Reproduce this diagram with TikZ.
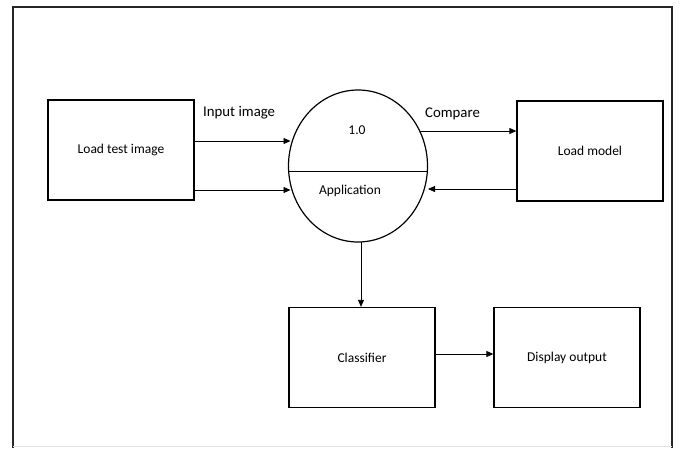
\documentclass[tikz,border=0pt]{standalone}
\usepackage{fontspec}
\setmainfont{Carlito}
\usetikzlibrary{arrows.meta,shapes.geometric}
\begin{document}
\begin{tikzpicture}[x=1pt,y=-1pt,
  box/.style={draw,line width=1.3pt,minimum width=146pt,minimum height=100pt,inner sep=0pt,font=\fontsize{13.5}{16}\selectfont},
  flow/.style={line width=0.8pt,-{Triangle[length=7pt,width=6pt]}},
  lbl/.style={font=\fontsize{14.8}{17}\selectfont,inner sep=0pt}]
  \useasboundingbox (0,0) rectangle (680,448);
  \fill[white] (0,0) rectangle (680,448);
  % outer frame
  \draw[line width=1.8pt,black!85] (13,448) -- (13,7) -- (672,7) -- (672,448);
  \draw[line width=0.8pt,black!12] (13,446) -- (672,446);

  % process bubble
  \node[draw,ellipse,line width=1.2pt,minimum width=139pt,minimum height=152pt,inner sep=0pt] (proc) at (358,166) {};
  \coordinate (dl) at (288.5,171);
  \coordinate (dr) at (427.5,171);
  \draw[line width=0.8pt] (dl) -- (dr);
  \node[font=\fontsize{13.5}{16}\selectfont] (num) at (357,130) {1.0};
  \node[font=\fontsize{13.5}{16}\selectfont] (app) at (350,191) {Application};

  % boxes
  \node[box] (load) at (121,150) {Load test image};
  \node[box] (model) at (590,151) {Load model};
  \node[box] (cls) at (362,357.5) {Classifier};
  \node[box] (disp) at (567,357.5) {Display output};

  % flows
  \draw[flow] (load.east |- 0,141) -- (290.5,141);
  \draw[flow] (load.east |- 0,190) -- (290.5,190);
  \draw[flow] (419.5,131) -- (model.west |- 0,131);
  \draw[flow] (model.west |- 0,189) -- (428,189);
  \draw[flow] (361,242) -- (cls.north -| 361,0);
  \draw[flow] (cls.east |- 0,354) -- (disp.west |- 0,354);

  % flow labels
  \node[lbl,anchor=west] (inlbl) at (203,113) {Input image};
  \node[lbl,anchor=west] (cmplbl) at (425,114) {Compare};
\end{tikzpicture}
\end{document}
